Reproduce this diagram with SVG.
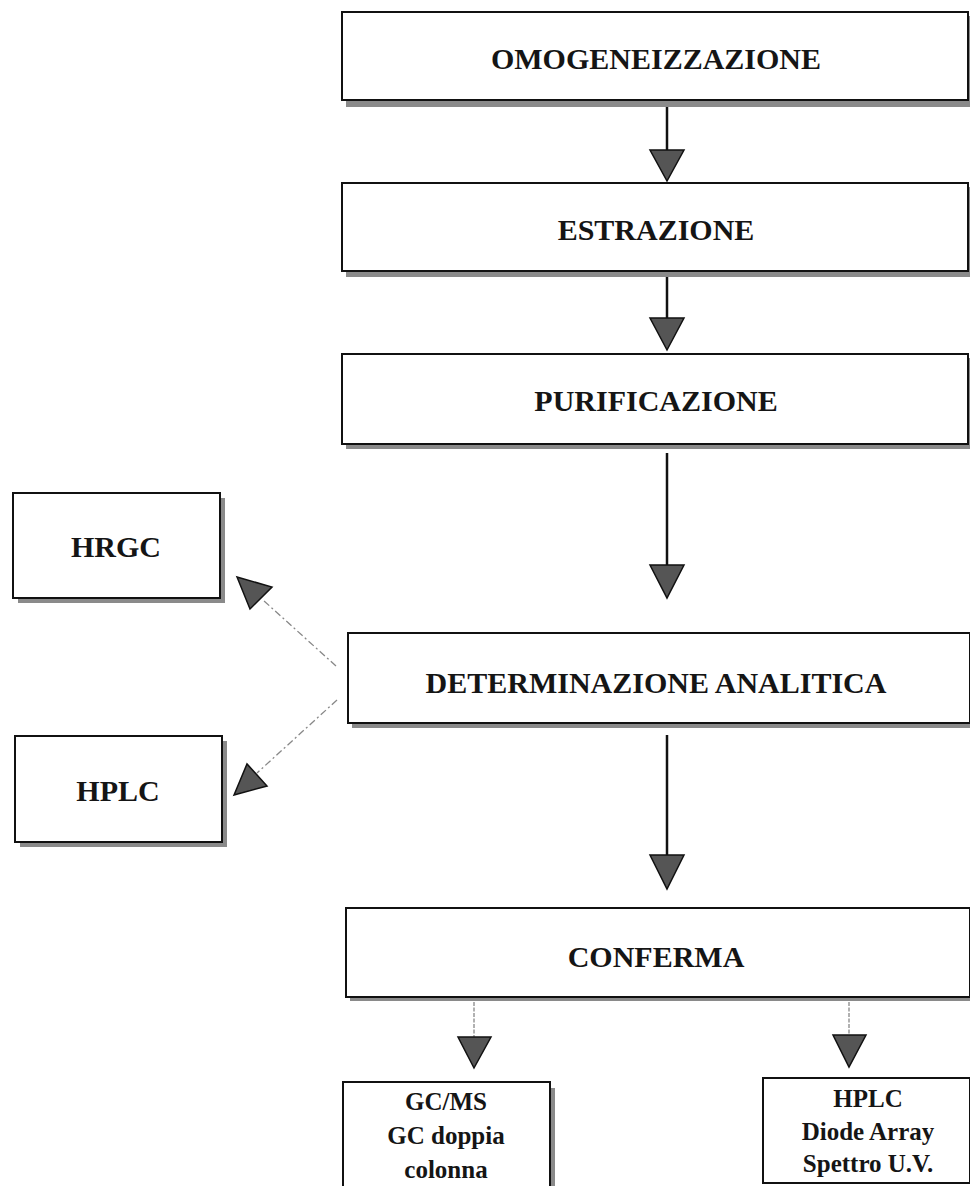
<svg xmlns="http://www.w3.org/2000/svg" width="970" height="1186" viewBox="0 0 970 1186">
<style>
.sh{fill:#8a8a8a}
.bx{fill:#fff;stroke:#111;stroke-width:2}
.t{font-family:"Liberation Serif","Times New Roman",serif;font-weight:bold;fill:#151515;text-anchor:middle}
.big{font-size:30px}
.sm{font-size:25px}
.ln{stroke:#111;stroke-width:2.5;fill:none}
.dl{stroke:#888;stroke-width:1.3;fill:none;stroke-dasharray:7 3 2 3}
.tl{stroke:#888;stroke-width:1.3;fill:none;stroke-dasharray:4 1.5}
.hd{fill:#555;stroke:#111;stroke-width:1.5;stroke-linejoin:miter}
</style>
<rect width="970" height="1186" fill="#fff"/>
<g id="omogeneizzazione">
<rect class="sh" x="346" y="16" width="626" height="91"/>
<rect class="bx" x="342" y="12" width="626" height="88"/>
<text class="t big" x="656" y="69">OMOGENEIZZAZIONE</text>
</g>
<g id="estrazione">
<rect class="sh" x="346" y="187" width="626" height="90"/>
<rect class="bx" x="342" y="183" width="626" height="88"/>
<text class="t big" x="656" y="240">ESTRAZIONE</text>
</g>
<g id="purificazione">
<rect class="sh" x="346" y="358" width="626" height="91"/>
<rect class="bx" x="342" y="354" width="626" height="90"/>
<text class="t big" x="656" y="411">PURIFICAZIONE</text>
</g>
<g id="determinazione">
<rect class="sh" x="352" y="637" width="622" height="91"/>
<rect class="bx" x="348" y="633" width="622" height="90"/>
<text class="t big" x="656" y="693">DETERMINAZIONE ANALITICA</text>
</g>
<g id="conferma">
<rect class="sh" x="350" y="912" width="624" height="89"/>
<rect class="bx" x="346" y="908" width="624" height="89"/>
<text class="t big" x="656" y="967">CONFERMA</text>
</g>
<g id="hrgc">
<rect class="sh" x="18" y="498" width="207" height="105"/>
<rect class="bx" x="13" y="493" width="207" height="105"/>
<text class="t big" x="116" y="557">HRGC</text>
</g>
<g id="hplc">
<rect class="sh" x="20" y="741" width="207" height="106"/>
<rect class="bx" x="15" y="736" width="207" height="106"/>
<text class="t big" x="118" y="801">HPLC</text>
</g>
<g id="gcms">
<rect class="sh" x="348" y="1088" width="207" height="110"/>
<rect class="bx" x="343" y="1082" width="207" height="110"/>
<text class="t sm" x="446" y="1110">GC/MS</text>
<text class="t sm" x="446" y="1144">GC doppia</text>
<text class="t sm" x="446" y="1178">colonna</text>
</g>
<g id="hplc-dad">
<rect class="bx" x="763" y="1078" width="207" height="105"/>
<text class="t sm" x="868" y="1107">HPLC</text>
<text class="t sm" x="868" y="1140">Diode Array</text>
<text class="t sm" x="868" y="1172">Spettro U.V.</text>
</g>
<g id="connectors">
<line class="ln" x1="667" y1="107" x2="667" y2="150"/>
<polygon class="hd" points="650,150 684,150 667,181"/>
<line class="ln" x1="667" y1="277" x2="667" y2="318"/>
<polygon class="hd" points="650,318 684,318 667,350"/>
<line class="ln" x1="667" y1="453" x2="667" y2="565"/>
<polygon class="hd" points="650,565 684,565 667,598"/>
<line class="ln" x1="667" y1="735" x2="667" y2="855"/>
<polygon class="hd" points="650,855 684,855 667,889"/>
<line class="dl" x1="336" y1="666" x2="263" y2="600"/>
<polygon class="hd" points="237,577 272,587 250,609"/>
<line class="dl" x1="337" y1="700" x2="257" y2="773"/>
<polygon class="hd" points="234,795 267,786 247,764"/>
<line class="tl" x1="474" y1="1002" x2="474" y2="1037"/>
<polygon class="hd" points="458,1037 491,1037 474,1068"/>
<line class="tl" x1="849" y1="1002" x2="849" y2="1035"/>
<polygon class="hd" points="833,1035 866,1035 849,1067"/>
</g>
</svg>
